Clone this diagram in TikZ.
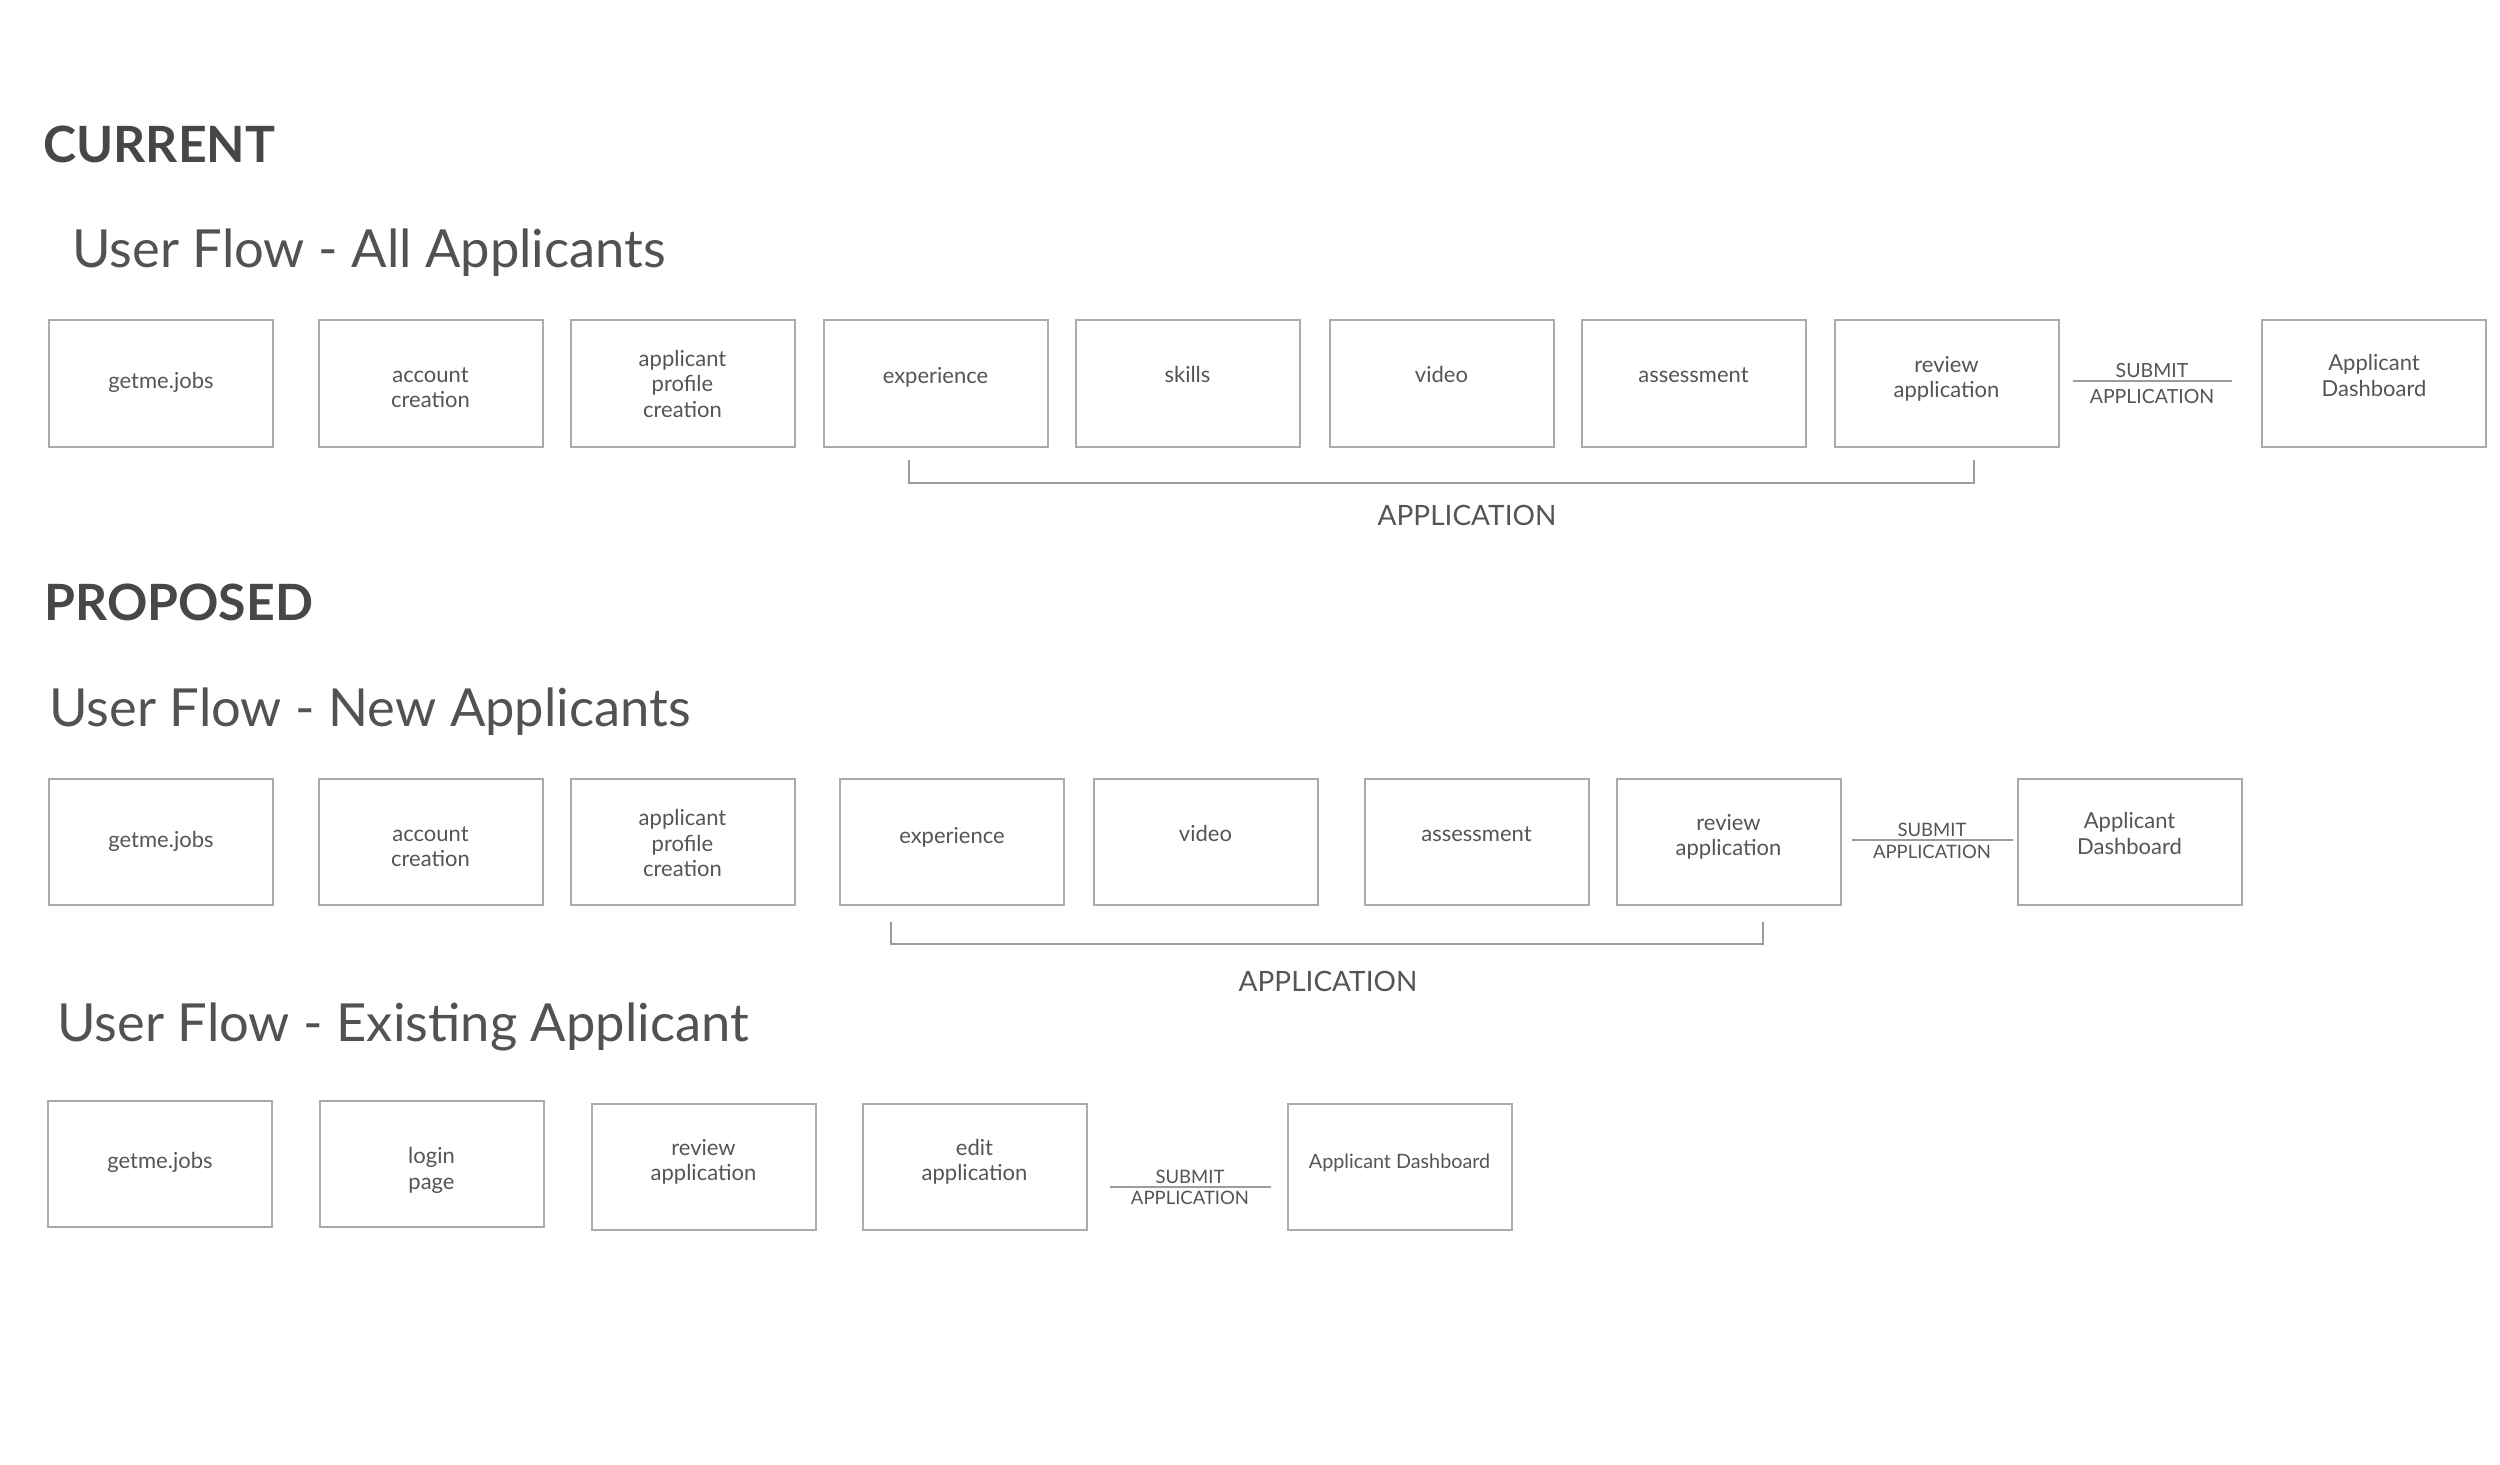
\documentclass[tikz,border=0pt]{standalone}
\usepackage{fontspec}
\setmainfont{Lato}
\usetikzlibrary{calc}
\definecolor{boxline}{HTML}{ABABAB}
\definecolor{boxtext}{HTML}{555555}
\definecolor{headtext}{HTML}{474747}
\definecolor{titletext}{HTML}{525252}
\definecolor{brack}{HTML}{9C9C9C}
% box text: lines centred on the box centre, moved up by the optional amount
\newcommand{\bt}[2][0pt]{\raisebox{\dimexpr#1-2.2pt\relax}[0pt][0pt]{\begin{tabular}{@{}c@{}}#2\end{tabular}}}
\begin{document}
\begin{tikzpicture}[x=0.4pt,y=-0.4pt,
 stepbox/.style={draw=boxline, line width=0.8pt, minimum width=89.6pt, minimum height=50.4pt, inner sep=0pt, text=boxtext, font=\fontsize{8.8}{10.2}\selectfont},
 header/.style={anchor=base west, inner sep=0pt, text=headtext, font=\bfseries\fontsize{20}{24}\selectfont},
 flowtitle/.style={anchor=base west, inner sep=0pt, text=titletext, font=\fontsize{21}{25}\selectfont},
 submitlbl/.style={anchor=base, inner sep=0pt, text=boxtext},
 bracket/.style={draw=brack, line width=0.8pt},
 submitline/.style={draw=brack, line width=0.8pt},
 applbl/.style={anchor=base, inner sep=0pt, text=boxtext, font=\fontsize{11.2}{13}\selectfont}]
\useasboundingbox[fill=white] (0,0) rectangle (2500,1465);

% ---------- CURRENT ----------
\node[header] (hcur) at (43,163) {CURRENT};
\node[flowtitle] (t1) at (72,268) {User Flow - All Applicants};

\node[stepbox] (a1) at (161,383.5) {\bt{getme.jobs}};
\node[stepbox] (a2) at (430.5,383.5) {\bt[-2.6pt]{account\\creation}};
\node[stepbox] (a3) at (682.5,383.5) {\bt[-1.3pt]{applicant\\profile\\creation}};
\node[stepbox] (a4) at (935.5,383.5) {\bt[1.9pt]{experience}};
\node[stepbox] (a5) at (1187.5,383.5) {\bt[2.4pt]{skills}};
\node[stepbox] (a6) at (1441.5,383.5) {\bt[2.4pt]{video}};
\node[stepbox] (a7) at (1693.5,383.5) {\bt[2.4pt]{assessment}};
\node[stepbox] (a8) at (1946.5,383.5) {\bt[1.3pt]{review\\application}};
\node[stepbox] (a9) at (2374,383.5) {\bt[1.9pt]{Applicant\\Dashboard}};

\coordinate (s1l) at (2073,381);
\coordinate (s1r) at (2232,381);
\draw[submitline] (s1l) -- (s1r);
\node[submitlbl, font=\fontsize{7.8}{9}\selectfont] (s1t) at (2152,378) {SUBMIT};
\node[submitlbl, font=\fontsize{7.8}{9}\selectfont] (s1b) at (2152,404) {APPLICATION};

\coordinate (b1a) at (909,460);
\coordinate (b1b) at (909,483);
\coordinate (b1c) at (1974,483);
\coordinate (b1d) at (1974,460);
\draw[bracket] (b1a) -- (b1b) -- (b1c) -- (b1d);
\node[applbl] (ap1) at (1467,525) {APPLICATION};

% ---------- PROPOSED ----------
\node[header] (hpro) at (44,620) {PROPOSED};
\node[flowtitle] (t2) at (49,726) {User Flow - New Applicants};

\node[stepbox] (n1) at (161,841.5) {\bt[-0.6pt]{getme.jobs}};
\node[stepbox] (n2) at (430.5,841.5) {\bt[-3pt]{account\\creation}};
\node[stepbox] (n3) at (682.5,841.5) {\bt[-1.9pt]{applicant\\profile\\creation}};
\node[stepbox] (n4) at (952,841.5) {\bt[1.3pt]{experience}};
\node[stepbox] (n5) at (1205.5,841.5) {\bt[1.9pt]{video}};
\node[stepbox] (n6) at (1476.5,841.5) {\bt[1.9pt]{assessment}};
\node[stepbox] (n7) at (1728.5,841.5) {\bt[1.3pt]{review\\application}};
\node[stepbox] (n8) at (2129.5,841.5) {\bt[1.9pt]{Applicant\\Dashboard}};

\coordinate (s2l) at (1852,840);
\coordinate (s2r) at (2013,840);
\draw[submitline] (s2l) -- (s2r);
\node[submitlbl, font=\fontsize{7.4}{9}\selectfont] (s2t) at (1932,836) {SUBMIT};
\node[submitlbl, font=\fontsize{7.4}{9}\selectfont] (s2b) at (1932,858) {APPLICATION};

\coordinate (b2a) at (891,922);
\coordinate (b2b) at (891,944);
\coordinate (b2c) at (1763,944);
\coordinate (b2d) at (1763,922);
\draw[bracket] (b2a) -- (b2b) -- (b2c) -- (b2d);
\node[applbl] (ap2) at (1328,991) {APPLICATION};

% ---------- Existing ----------
\node[flowtitle] (t3) at (57,1041) {User Flow - Existing Applicant};

\node[stepbox] (e1) at (160,1164) {\bt{getme.jobs}};
\node[stepbox] (e2) at (431.5,1164) {\bt[-3pt]{login\\page}};
\node[stepbox] (e3) at (703.5,1166.5) {\bt[1.3pt]{review\\application}};
\node[stepbox] (e4) at (974.5,1166.5) {\bt[1.3pt]{edit\\application}};
\node[stepbox, font=\fontsize{7.9}{9.5}\selectfont] (e5) at (1399.5,1166.5) {\bt[1.3pt]{Applicant Dashboard}};

\coordinate (s3l) at (1110,1187);
\coordinate (s3r) at (1271,1187);
\draw[submitline] (s3l) -- (s3r);
\node[submitlbl, font=\fontsize{7.4}{9}\selectfont] (s3t) at (1190,1183) {SUBMIT};
\node[submitlbl, font=\fontsize{7.4}{9}\selectfont] (s3b) at (1190,1204) {APPLICATION};
\end{tikzpicture}
\end{document}
